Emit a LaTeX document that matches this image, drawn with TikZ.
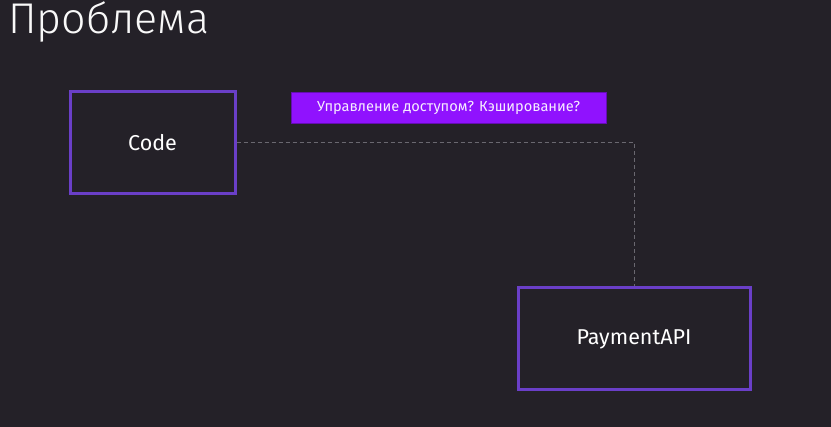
\documentclass[tikz,border=0pt]{standalone}
\usepackage{fontspec}
\setmainfont{Fira Sans}
\newfontfamily\titlefont{Fira Sans Light}
\usetikzlibrary{calc}
\definecolor{bgdark}{HTML}{242128}
\definecolor{boxline}{HTML}{6A3FC8}
\definecolor{notefill}{HTML}{9012FE}
\definecolor{linkgray}{HTML}{6A6870}
\tikzset{
  block/.style={draw=boxline, line width=3pt, fill=bgdark, text=white,
    minimum width=165pt, minimum height=102pt, font=\fontsize{21.5}{26}\selectfont},
  note/.style={fill=notefill, draw=notefill!70!black, line width=0.6pt, text=white!92!notefill,
    minimum width=315pt, minimum height=31pt, font=\fontsize{14.6}{18}\selectfont},
  link/.style={draw=linkgray, line width=1pt, dash pattern=on 4pt off 3pt}
}
\begin{document}
\begin{tikzpicture}[x=1pt,y=-1pt]
\fill[bgdark] (0,0) rectangle (831,427); % background
\useasboundingbox (0,0) rectangle (831,427);

\node[anchor=base west, inner sep=0pt, text=white!95!gray,
      font=\titlefont\fontsize{43}{50}\selectfont] (title) at (8,33.5) {Проблема};

\node[block] (code) at (152.5,143) {Code};
\node[block, minimum width=232pt] (payment) at (634,339) {PaymentAPI};

\draw[link] (code.east) -| (payment.north);

\node[note] (question) at (448.5,107.5) {Управление доступом? Кэширование?};
\end{tikzpicture}
\end{document}
